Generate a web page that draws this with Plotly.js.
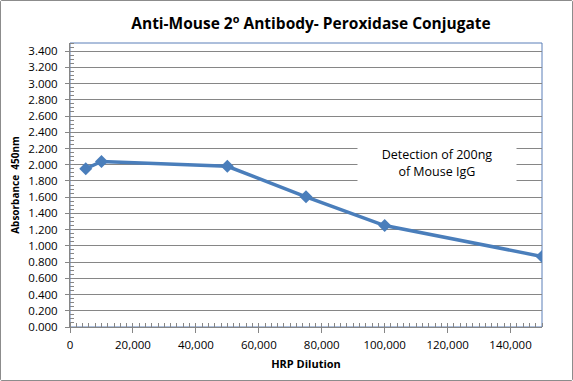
<!DOCTYPE html>
<html>
<head>
<meta charset="utf-8">
<script src="https://cdn.plot.ly/plotly-3.0.1.min.js"></script>
<style>
  html, body { margin: 0; padding: 0; background: #fff; }
  #chart { width: 571px; height: 379px; border: 1px solid #8c8c8c; border-radius: 2px; }
</style>
</head>
<body>
<div id="chart"></div>
<script>
// Data
const dilution = [5000, 10000, 50000, 75000, 100000, 150000];
const absorbance = [1.95, 2.04, 1.98, 1.605, 1.25, 0.87];

const chartTitle = 'Anti-Mouse 2<sup>o</sup> Antibody- Peroxidase Conjugate';
const xTitle = 'HRP Dilution';
const yTitle = 'Absorbance  450nm';
const noteText = 'Detection of 200ng<br>of Mouse IgG';

const tickFont = { family: 'Open Sans, sans-serif', size: 11.5, color: '#000' };
const gridCol = '#868686';

const trace = {
  x: dilution,
  y: absorbance,
  type: 'scatter',
  mode: 'lines+markers',
  line: { color: '#4a7ebb', width: 3.5 },
  marker: { symbol: 'diamond', size: 10, color: '#4a7ebb' },
  hoverinfo: 'skip'
};

const layout = {
  width: 571,
  height: 379,
  margin: { l: 68.5, r: 30, t: 42, b: 53 },
  paper_bgcolor: '#fff',
  plot_bgcolor: '#fff',
  showlegend: false,
  title: {
    text: chartTitle,
    font: { family: 'Open Sans, sans-serif', size: 15.5, color: '#000', weight: 'bold' },
    xref: 'container', yref: 'container',
    x: 310 / 571, xanchor: 'center',
    y: 1 - 23 / 379, yanchor: 'middle'
  },
  xaxis: {
    range: [0, 150000],
    dtick: 20000,
    tick0: 0,
    tickformat: ',d',
    tickfont: tickFont,
    ticks: 'outside',
    ticklen: 5,
    tickcolor: gridCol,
    ticklabelstandoff: 2,
    showline: true,
    linecolor: gridCol,
    linewidth: 1,
    showgrid: false,
    zeroline: false,
    minor: { dtick: 2000, ticks: 'inside', ticklen: 4, tickcolor: gridCol, showgrid: false },
    title: {
      text: xTitle,
      font: { family: 'Open Sans, sans-serif', size: 11, color: '#000', weight: 'bold' },
      standoff: 9
    },
    fixedrange: true
  },
  yaxis: {
    range: [0, 3.5],
    tickvals: [0, 0.2, 0.4, 0.6, 0.8, 1.0, 1.2, 1.4, 1.6, 1.8, 2.0, 2.2, 2.4, 2.6, 2.8, 3.0, 3.2, 3.4],
    tickformat: '.3f',
    tickfont: tickFont,
    ticks: 'outside',
    ticklen: 4,
    tickcolor: gridCol,
    ticklabelstandoff: 5,
    showline: true,
    linecolor: gridCol,
    linewidth: 1,
    showgrid: true,
    gridcolor: gridCol,
    gridwidth: 1,
    zeroline: false,
    minor: { dtick: 0.05, ticks: 'inside', ticklen: 4, tickcolor: gridCol, showgrid: false },
    title: {
      text: yTitle,
      font: { family: 'Open Sans, sans-serif', size: 10, color: '#000', weight: 'bold' },
      standoff: 6
    },
    fixedrange: true
  },
  shapes: [
    {
      type: 'rect', xref: 'paper', yref: 'paper', x0: 0, x1: 1, y0: 0, y1: 1,
      line: { color: '#5a7fb8', width: 1 }, layer: 'below'
    }
  ],
  annotations: [
    {
      text: noteText,
      xref: 'x', yref: 'y',
      x: 116700, y: 2.02,
      showarrow: false,
      bgcolor: '#fff',
      width: 156,
      height: 42,
      align: 'center',
      valign: 'middle',
      font: { family: 'Open Sans, sans-serif', size: 12.5, color: '#000' }
    }
  ]
};

Plotly.newPlot('chart', [trace], layout, { displayModeBar: false, staticPlot: true });
</script>
</body>
</html>
